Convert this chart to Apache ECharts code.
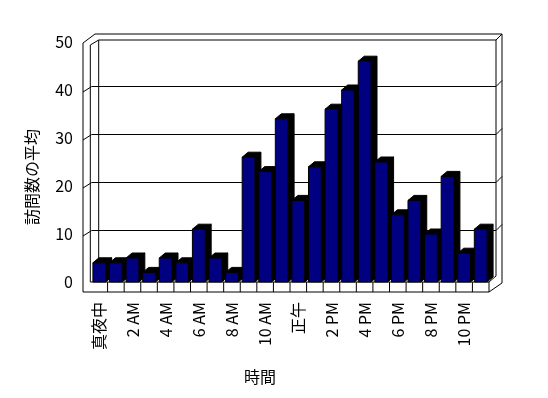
<!DOCTYPE html>
<html>
<head>
<meta charset="utf-8">
<script src="https://cdn.jsdelivr.net/npm/echarts@6/dist/echarts.min.js"></script>
<style>
  html, body { margin: 0; padding: 0; background: #fff; }
  #chart { width: 548px; height: 398px; }
</style>
</head>
<body>
<div id="chart"></div>
<script>
// 時間帯ごとの訪問数の平均
const hours = ['真夜中', '1 AM', '2 AM', '3 AM', '4 AM', '5 AM', '6 AM', '7 AM', '8 AM', '9 AM', '10 AM', '11 AM',
  '正午', '1 PM', '2 PM', '3 PM', '4 PM', '5 PM', '6 PM', '7 PM', '8 PM', '9 PM', '10 PM', '11 PM'];
const visits = [4, 4, 5, 2, 5, 4, 11, 5, 2, 26, 23, 34, 17, 24, 36, 40, 46, 25, 14, 17, 10, 22, 6, 11];
const yTicks = [0, 10, 20, 30, 40, 50];

const FONT = '"Noto Sans CJK JP", "Noto Sans", sans-serif';
const line = { stroke: '#000', lineWidth: 1, fill: null };

// 壁と床(3D風の枠)
function renderWalls(params, api) {
  const cs = params.coordSys;
  const x0 = cs.x, x1 = cs.x + cs.width, yT = cs.y, yB = cs.y + cs.height;
  const bw = api.size([1, 0])[0];
  const kids = [];
  const poly = (pts) => kids.push({ type: 'polyline', shape: { points: pts }, style: line });

  // 目盛線 (奥の壁 + 左壁)
  yTicks.slice(1, -1).forEach(v => {
    const yf = api.coord([0, v])[1];
    const yb = yf - 3.5;
    poly([[x0 - 8, yf + 2], [x0 + 0.7, yb], [x1 + 7, yb], [x1 + 13, yb - 6]]);
  });
  // 上端
  poly([[x0 - 0.7, yT + 3], [x0 + 7.7, yT - 2], [x1 + 7, yT - 2], [x1 + 13, yT - 8]]);
  poly([[x0 - 8, yT + 1], [x0 + 4, yT - 8], [x1 + 13, yT - 8]]);
  // 縦線
  poly([[x0 - 8, yT + 1], [x0 - 8, yB + 10]]);
  poly([[x0 - 0.7, yT + 3], [x0 - 0.7, yB]]);
  poly([[x0 + 7.7, yT - 2], [x0 + 7.7, yB - 4]]);
  poly([[x1 + 7, yT - 2], [x1 + 7, yB - 6]]);
  poly([[x1 + 13, yT - 8], [x1 + 13, yB + 1]]);
  // 床
  poly([[x0 - 0.7, yB], [x1, yB], [x1 + 7, yB - 6]]);
  poly([[x0 - 8, yB + 10], [x1, yB + 10], [x1 + 13, yB + 1]]);
  poly([[x1, yB], [x1, yB + 10]]);
  for (let i = 0; i < hours.length - 1; i++) {
    const x = api.coord([i, 0])[0] + bw / 2;
    poly([[x, yB], [x, yB + 10]]);
  }
  return { type: 'group', children: kids };
}

// 3D風の棒
function renderBar(params, api) {
  const top = api.coord([api.value(0), api.value(1)]);
  const base = api.coord([api.value(0), 0]);
  const w = api.size([1, 0])[0] * 0.77;
  const xl = top[0] - w / 2, xr = top[0] + w / 2;
  const yt = top[1], yb = base[1];
  const dx = 6, dy = -5;
  return {
    type: 'group',
    children: [
      { type: 'polygon', shape: { points: [[xr, yt], [xr + dx, yt + dy], [xr + dx, yb + dy], [xr, yb]] },
        style: { fill: '#000', stroke: '#000', lineWidth: 1 } },
      { type: 'polygon', shape: { points: [[xl, yt], [xl + dx, yt + dy], [xr + dx, yt + dy], [xr, yt]] },
        style: { fill: '#000', stroke: '#000', lineWidth: 1 } },
      { type: 'rect', shape: { x: xl, y: yt, width: w, height: yb - yt },
        style: { fill: '#000080', stroke: '#000', lineWidth: 1 } }
    ]
  };
}

const chart = echarts.init(document.getElementById('chart'));
chart.setOption({
  animation: false,
  backgroundColor: '#fff',
  textStyle: { fontFamily: FONT },
  grid: { left: 91, right: 59, top: 42, bottom: 116 },
  xAxis: {
    type: 'category',
    data: hours,
    axisLine: { show: false },
    axisTick: { show: false },
    axisLabel: { interval: 1, rotate: 90, margin: 20, fontSize: 16, color: '#000', fontFamily: FONT }
  },
  yAxis: {
    type: 'value',
    min: 0,
    max: 50,
    interval: 10,
    axisLine: { show: false },
    axisTick: { show: false },
    splitLine: { show: false },
    axisLabel: { margin: 18, fontSize: 16, color: '#000', fontFamily: FONT }
  },
  graphic: [
    { type: 'text', x: 260, y: 377, style: { text: '時間', font: '16px ' + FONT, fill: '#000', align: 'center', verticalAlign: 'middle' } },
    { type: 'text', x: 32, y: 177, rotation: Math.PI / 2, style: { text: '訪問数の平均', font: '16px ' + FONT, fill: '#000', align: 'center', verticalAlign: 'middle' } }
  ],
  series: [
    { type: 'custom', renderItem: renderWalls, data: [[0, 0]], clip: false, z: 1, silent: true },
    { type: 'custom', renderItem: renderBar, data: visits.map((v, i) => [i, v]), encode: { x: 0, y: 1 }, clip: false, z: 2 }
  ]
});
</script>
</body>
</html>
